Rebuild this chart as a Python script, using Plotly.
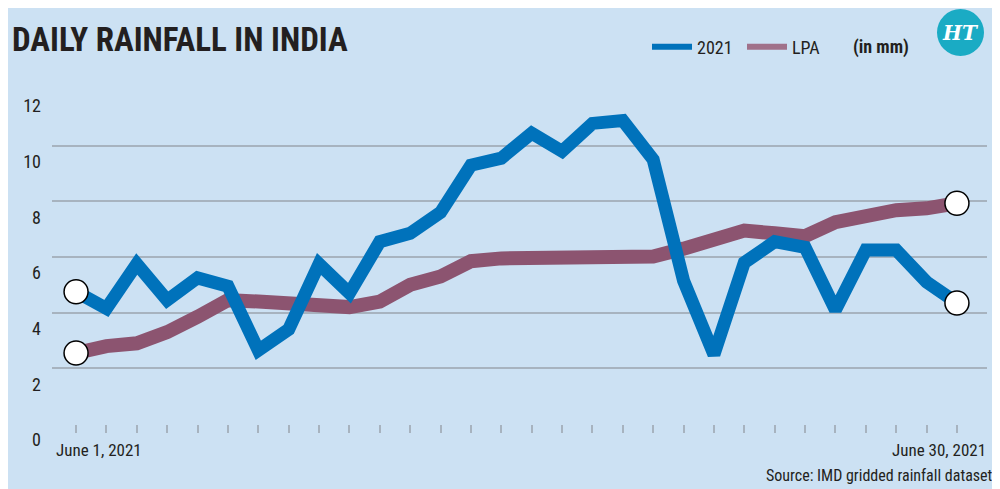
import pandas as pd
import plotly.graph_objs as go

# daily rainfall, June 2021 vs long period average (mm)
dates = pd.date_range('2021-06-01', '2021-06-30', freq='D')
rain_2021 = [4.75, 4.15, 5.75, 4.45, 5.25, 4.95, 2.65, 3.4, 5.75, 4.7,
             6.55, 6.85, 7.6, 9.3, 9.55, 10.45, 9.8, 10.8, 10.9, 9.5,
             5.15, 2.5, 5.8, 6.55, 6.35, 4.1, 6.25, 6.25, 5.1, 4.35]
rain_lpa = [2.55, 2.8, 2.9, 3.3, 3.85, 4.45, 4.4, 4.3, 4.22, 4.2,
            4.4, 5.0, 5.3, 5.85, 5.95, 5.95, 6.02, 6.02, 6.02, 6.02,
            6.3, 6.65, 6.95, 6.85, 6.75, 7.25, 7.5, 7.68, 7.75, 7.93]
y_ticks = [0, 2, 4, 6, 8, 10, 12]
date_labels = ['June 1, 2021', 'June 30, 2021']

blue = '#0072BB'
plum = '#8C5470'
bg = '#CCE1F3'
grid = '#A7B3BF'
ink = '#231F20'
font = 'Roboto Condensed, DejaVu Sans Condensed, Liberation Sans Narrow, Roboto, sans-serif'

# page body adds an 8px margin at top/left, so figure fills the rest of the window
W, H = 992, 481
L, R, T, B = 44, 13, 82, 65


def px(fx):
    return (fx - L) / (W - L - R)


def py(fy):
    return (H - B - fy) / (H - T - B)


line_2021 = go.Scatter(x=dates, y=rain_2021, mode='lines', showlegend=False,
                       line=dict(color=blue, width=13), hoverinfo='skip')
line_lpa = go.Scatter(x=dates, y=rain_lpa, mode='lines', showlegend=False,
                      line=dict(color=plum, width=14), hoverinfo='skip')

# white end dots
ends = go.Scatter(
    x=[dates[0], dates[-1], dates[0], dates[-1]],
    y=[rain_2021[0], rain_2021[-1], rain_lpa[0], rain_lpa[-1]],
    mode='markers', showlegend=False,
    marker=dict(size=24, color='white', line=dict(color='black', width=1.5)))

# legend-only entries (thinner sample lines)
leg_2021 = go.Scatter(x=[None], y=[None], mode='lines', name='2021',
                      line=dict(color=blue, width=6))
leg_lpa = go.Scatter(x=[None], y=[None], mode='lines', name='LPA',
                     line=dict(color='#A0718A', width=6))

fig = go.Figure([line_lpa, line_2021, ends, leg_2021, leg_lpa])

fig.update_layout(
    width=W, height=H,
    margin=dict(l=L, r=R, t=T, b=B),
    paper_bgcolor=bg, plot_bgcolor=bg,
    font=dict(family=font, size=17, color=ink),
    title=dict(text='<b>DAILY RAINFALL IN INDIA</b>', x=4 / W, xanchor='left',
               y=1 - 31.5 / H, yanchor='middle',
               font=dict(family=font, size=33, color=ink)),
    legend=dict(orientation='h', x=px(639), xanchor='left', y=py(39), yanchor='middle',
                bgcolor='rgba(0,0,0,0)', font=dict(size=18), itemwidth=40,
                entrywidth=40, traceorder='normal'),
    xaxis=dict(range=['2021-05-31 05:00', '2021-06-30 23:45'], showgrid=False,
               zeroline=False, showline=False, showticklabels=False,
               ticks='outside', ticklen=8, tickwidth=1.5, tickcolor=grid,
               tickmode='array', tickvals=dates),
    yaxis=dict(range=[0, 12], tickvals=y_ticks, showgrid=True, gridcolor=grid,
               gridwidth=1.5, zeroline=False, showline=False, ticks='',
               ticklabelstandoff=10, ticklabelshift=16,
               tickfont=dict(size=18)),
    annotations=[
        dict(x=dates[0], y=0, xref='x', yref='paper', text=date_labels[0],
             showarrow=False, xanchor='left', yanchor='top', xshift=-22, yshift=-14,
             font=dict(size=17)),
        dict(x=dates[-1], y=0, xref='x', yref='paper', text=date_labels[1],
             showarrow=False, xanchor='right', yanchor='top', xshift=31, yshift=-14,
             font=dict(size=17)),
        dict(x=px(987), y=py(467), xref='paper', yref='paper', yanchor='middle',
             xanchor='right', text='Source: IMD gridded rainfall dataset',
             showarrow=False, font=dict(size=16)),
        dict(x=px(843), y=py(39), xref='paper', yref='paper', xanchor='left',
             yanchor='middle', text='<b>(in mm)</b>', showarrow=False,
             font=dict(size=18)),
        dict(x=px(952.5), y=py(25), xref='paper', yref='paper', xanchor='center',
             yanchor='middle', text='<b><i>HT</i></b>', showarrow=False,
             font=dict(family='DejaVu Serif, serif', size=20, color='white')),
    ],
    shapes=[
        dict(type='circle', xref='paper', yref='paper', x0=px(929), x1=px(976),
             y0=py(48), y1=py(1), fillcolor='#1AABC4', line=dict(width=0),
             layer='above'),
    ],
)

fig.write_html("out.html")
